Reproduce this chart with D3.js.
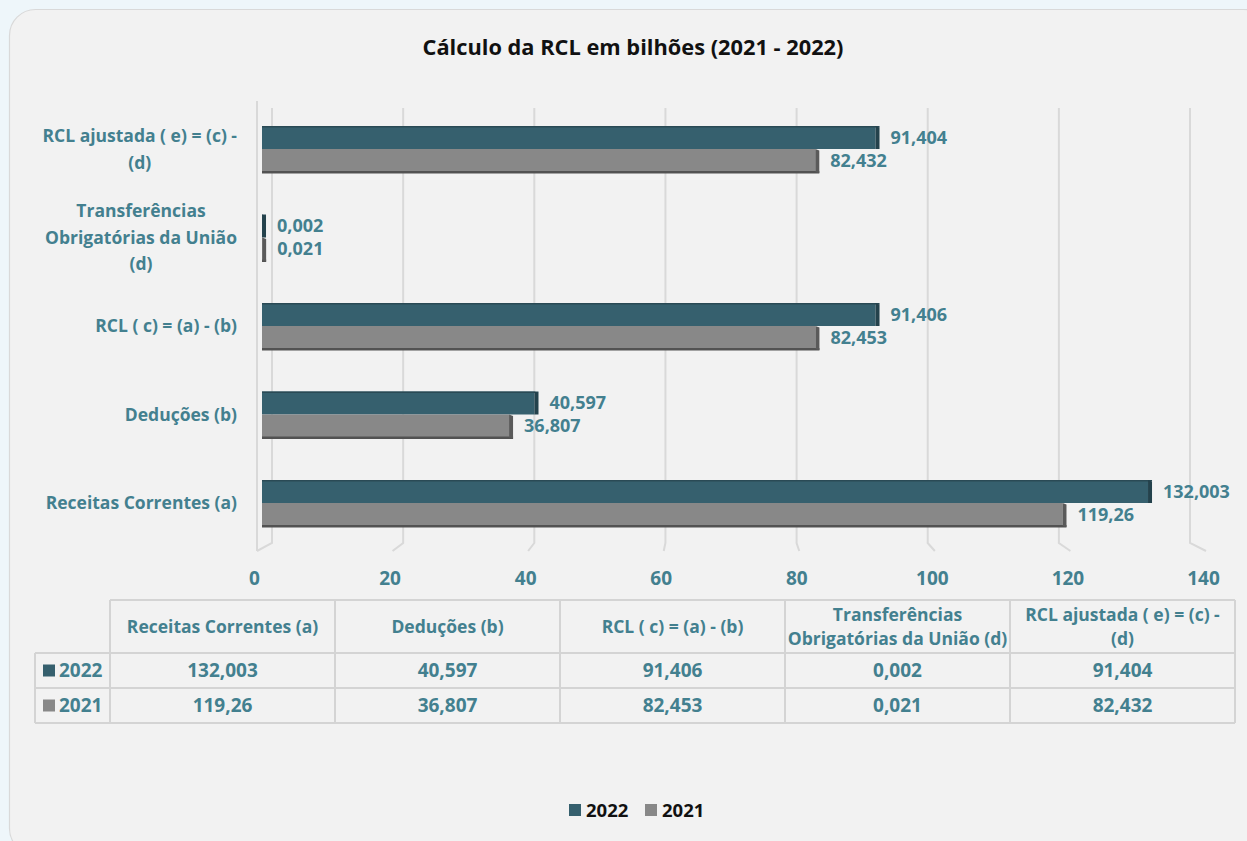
<!DOCTYPE html>
<html>
<head>
<meta charset="utf-8">
<script src="https://cdn.jsdelivr.net/npm/d3@7"></script>
<style>
  html, body { margin: 0; padding: 0; background: #eef6fa; }
  svg { display: block; font-family: "Open Sans", Lato, sans-serif; }
</style>
</head>
<body>
<svg id="chart" width="1247" height="841"></svg>
<script>
// Chart data
const title = "Cálculo da RCL em bilhões (2021 - 2022)";
const categories = [
  "Receitas Correntes (a)",
  "Deduções (b)",
  "RCL ( c) = (a) - (b)",
  "Transferências Obrigatórias da União (d)",
  "RCL ajustada ( e) = (c) - (d)"
];
// Axis labels wrap like this inside the plot
const categoryLines = [
  ["Receitas Correntes (a)"],
  ["Deduções (b)"],
  ["RCL ( c) = (a) - (b)"],
  ["Transferências", "Obrigatórias da União", "(d)"],
  ["RCL ajustada ( e) = (c) -", "(d)"]
];
// Table header wrapping
const headerLines = [
  ["Receitas Correntes (a)"],
  ["Deduções (b)"],
  ["RCL ( c) = (a) - (b)"],
  ["Transferências", "Obrigatórias da União (d)"],
  ["RCL ajustada ( e) = (c) -", "(d)"]
];
const seriesNames = ["2022", "2021"];
const values2022 = [132.003, 40.597, 91.406, 0.002, 91.404];
const values2021 = [119.26, 36.807, 82.453, 0.021, 82.432];
const labels2022 = ["132,003", "40,597", "91,406", "0,002", "91,404"];
const labels2021 = ["119,26", "36,807", "82,453", "0,021", "82,432"];
const xTicks = [0, 20, 40, 60, 80, 100, 120, 140];

const seriesColors = ["#36606e", "#888888"];
const textColor = "#43808f";
const fs = 17.5;     // text labels
const fsNum = 19;    // numbers
const fsBarLabel = 18;

const svg = d3.select("#chart");

// Panel
svg.append("rect")
  .attr("x", 9.5).attr("y", 9.5)
  .attr("width", 1260).attr("height", 845)
  .attr("rx", 26).attr("ry", 26)
  .attr("fill", "#f2f2f2").attr("stroke", "#d9d9d9").attr("stroke-width", 1.2);

svg.append("text")
  .attr("x", 633).attr("y", 55)
  .attr("text-anchor", "middle")
  .attr("font-weight", 700).attr("font-size", 21.8)
  .attr("fill", "#111")
  .text(title);

// Scales: back wall, front floor edge, and bar scale (perspective)
const xBack = d3.scaleLinear().domain([0, 140]).range([272, 1190]);
const xFront = d3.scaleLinear().domain([0, 140]).range([257, 1206]);
const xBar = d3.scaleLinear().domain([0, 140]).range([262, 1201.7]);

const yBand = d3.scaleBand()
  .domain(categories.slice().reverse())
  .range([104.75, 547.25])
  .paddingInner(0).paddingOuter(0);
const barH = 23;

// Gridlines on the back wall with floor diagonals
const grid = svg.append("g").attr("fill", "none").attr("stroke", "#d9d9d9").attr("stroke-width", 2);
grid.append("line")
  .attr("x1", xFront(0)).attr("x2", xFront(0))
  .attr("y1", 101).attr("y2", 551);
xTicks.forEach(t => {
  grid.append("path")
    .attr("d", `M${xBack(t)},108 L${xBack(t)},543 L${xFront(t)},551`);
});

// Axis tick labels
const axis = d3.axisBottom(xFront).tickValues(xTicks).tickSize(0).tickPadding(0)
  .tickFormat(d3.format("d"));
const axisG = svg.append("g").attr("transform", "translate(0,585)").call(axis);
axisG.select(".domain").remove();
axisG.selectAll("text")
  .attr("font-family", "'Open Sans', sans-serif")
  .attr("font-size", fsNum).attr("font-weight", 700)
  .attr("fill", textColor).attr("dy", 0).attr("dx", -3);

// Bars
const bars = svg.append("g");
const endFace = 5;
function drawBar(i, v, label, s) {
  const cat = categories[i];
  const y0 = yBand(cat) + yBand.bandwidth() / 2 - barH + s * barH;
  const x0 = xBar(0), x1 = xBar(v);
  const w = Math.max(0, x1 - x0);
  const main = seriesColors[s];
  const dark = s === 0 ? "#24424c" : "#5a5a5a";
  const g = bars.append("g");
  g.append("rect").attr("x", x0).attr("y", y0).attr("width", w).attr("height", barH).attr("fill", main);
  if (s === 0) {
    g.append("rect").attr("x", x0).attr("y", y0).attr("width", w + endFace - 1).attr("height", 1.5)
      .attr("fill", "#2a4a55");
  } else {
    g.append("rect").attr("x", x0).attr("y", y0 + barH - 1).attr("width", w + endFace - 1).attr("height", 2.5)
      .attr("fill", "#525252");
  }
  g.append("path")
    .attr("d", `M${x1},${y0} L${x1 + endFace - 1},${y0 + 1.5} L${x1 + endFace - 1},${y0 + barH + (s === 1 ? 1 : 0)} L${x1},${y0 + barH} Z`)
    .attr("fill", dark);
  svg.append("text")
    .attr("x", x1 + endFace + 10)
    .attr("y", y0 + barH / 2)
    .attr("dy", "0.36em")
    .attr("font-size", fsBarLabel).attr("font-weight", 700)
    .attr("fill", textColor)
    .text(label);
}
categories.forEach((c, i) => {
  drawBar(i, values2022[i], labels2022[i], 0);
  drawBar(i, values2021[i], labels2021[i], 1);
});

// Category labels
const catG = svg.append("g");
categories.forEach((c, i) => {
  const lines = categoryLines[i];
  const cy = yBand(c) + yBand.bandwidth() / 2;
  const lh = 26.5;
  const t = catG.append("text")
    .attr("font-size", fs).attr("font-weight", 700).attr("fill", textColor)
    .attr("text-anchor", "middle");
  const spans = lines.map((ln, k) => t.append("tspan")
    .attr("y", cy + (k - (lines.length - 1) / 2) * lh)
    .attr("dy", "0.36em").text(ln));
  const maxW = d3.max(spans, sp => sp.node().getComputedTextLength());
  spans.forEach(sp => sp.attr("x", 237 - maxW / 2));
});

// Data table
const colX = d3.scaleBand().domain(categories).range([110, 1235]);
const rowY = [600, 653, 688, 723];
const tbl = svg.append("g");
const tStroke = "#d4d4d4";
// horizontal rules
tbl.append("line").attr("x1", 110).attr("x2", 1235).attr("y1", rowY[0]).attr("y2", rowY[0]);
[1, 2, 3].forEach(r => tbl.append("line").attr("x1", 35).attr("x2", 1235).attr("y1", rowY[r]).attr("y2", rowY[r]));
// vertical rules
tbl.append("line").attr("x1", 35).attr("x2", 35).attr("y1", rowY[1]).attr("y2", rowY[3]);
categories.forEach(c => tbl.append("line").attr("x1", colX(c)).attr("x2", colX(c)).attr("y1", rowY[0]).attr("y2", rowY[3]));
tbl.append("line").attr("x1", 1235).attr("x2", 1235).attr("y1", rowY[0]).attr("y2", rowY[3]);
tbl.selectAll("line").attr("stroke", tStroke).attr("stroke-width", 2);

categories.forEach((c, i) => {
  const cx = colX(c) + colX.bandwidth() / 2;
  const lines = headerLines[i];
  const t = tbl.append("text").attr("text-anchor", "middle")
    .attr("font-size", fs).attr("font-weight", 700).attr("fill", textColor);
  const midY = (rowY[0] + rowY[1]) / 2;
  lines.forEach((ln, k) => t.append("tspan").attr("x", cx)
    .attr("y", midY + (k - (lines.length - 1) / 2) * 24).attr("dy", "0.36em").text(ln));
  tbl.append("text").attr("x", cx).attr("y", (rowY[1] + rowY[2]) / 2).attr("dy", "0.36em")
    .attr("text-anchor", "middle").attr("font-size", fsNum).attr("font-weight", 700).attr("fill", textColor)
    .text(labels2022[i]);
  tbl.append("text").attr("x", cx).attr("y", (rowY[2] + rowY[3]) / 2).attr("dy", "0.36em")
    .attr("text-anchor", "middle").attr("font-size", fsNum).attr("font-weight", 700).attr("fill", textColor)
    .text(labels2021[i]);
});
seriesNames.forEach((name, s) => {
  const cy = (rowY[s + 1] + rowY[s + 2]) / 2;
  tbl.append("rect").attr("x", 43).attr("y", cy - 6).attr("width", 12).attr("height", 12).attr("fill", seriesColors[s]);
  tbl.append("text").attr("x", 59).attr("y", cy).attr("dy", "0.36em")
    .attr("font-size", fsNum).attr("font-weight", 700).attr("fill", textColor).text(name);
});

// Legend
const legend = svg.append("g");
const legendX = [569, 645];
seriesNames.forEach((name, s) => {
  legend.append("rect").attr("x", legendX[s]).attr("y", 804).attr("width", 12).attr("height", 12).attr("fill", seriesColors[s]);
  legend.append("text").attr("x", legendX[s] + 17).attr("y", 810).attr("dy", "0.36em")
    .attr("font-size", 18.5).attr("font-weight", 700).attr("fill", "#111").text(name);
});
</script>
</body>
</html>
